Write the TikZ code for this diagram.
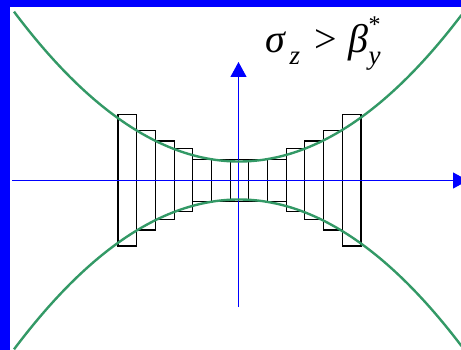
\documentclass[tikz,border=0pt]{standalone}
\usepackage{fontspec}
\newfontfamily\timesfont{Liberation Serif}
\usetikzlibrary{arrows.meta}
\definecolor{beamgreen}{RGB}{51,153,102}

\begin{document}
\begin{tikzpicture}[
  x=1pt, y=-1pt,
  axis/.style={blue, line width=1.1pt, -{Triangle[length=15pt,width=16pt]}},
  slice/.style={draw=black, line width=1.1pt},
  envelope/.style={beamgreen, line width=2.4pt},
  frame/.style={fill=blue},
  cond/.style={font=\timesfont\itshape\fontsize{40}{42}\selectfont, anchor=base west, inner sep=0pt}
]

% Canvas and blue frame
\useasboundingbox (0,0) rectangle (461,350);
\fill[white] (0,0) rectangle (461,350);
\fill[frame] (0,0) rectangle (461,7);
\fill[frame] (0,0) rectangle (10,350);

% Slices of the bunch
\draw[slice] (118,114.3) rectangle (136.7,246);
\draw[slice] (136.7,130.7) rectangle (155.4,230);
\draw[slice] (155.4,141) rectangle (174.1,219.3);
\draw[slice] (174.1,148.3) rectangle (192.8,211.7);
\draw[slice] (192.8,159.3) rectangle (211.5,201.3);
\draw[slice] (211.5,159.3) rectangle (230.1,201.3);
\draw[slice] (230.1,159.3) rectangle (248.8,201.3);
\draw[slice] (248.8,159.3) rectangle (267.5,201.3);
\draw[slice] (267.5,159.3) rectangle (286.2,201.3);
\draw[slice] (286.2,148.3) rectangle (304.9,211.7);
\draw[slice] (304.9,141) rectangle (323.6,219.3);
\draw[slice] (323.6,130.7) rectangle (342.3,230);
\draw[slice] (342.3,114.3) rectangle (361,246);

% Axes
\coordinate (hstart) at (12,180.5);
\coordinate (hend) at (468,180.5);
\coordinate (vstart) at (238.5,307);
\coordinate (vend) at (238.5,62);
\draw[axis] (hstart) -- (hend);
\draw[axis] (vstart) -- (vend);

% Beta envelope
\draw[envelope] plot[domain=-225:222.5, samples=90, smooth] ({239+\x}, {161.5-0.296*(\x/10)*(\x/10)});
\draw[envelope] plot[domain=-225:222.5, samples=90, smooth] ({239+\x}, {199.5+0.296*(\x/10)*(\x/10)});

% Condition label
\node[cond] (sigz) at (265,53) {σ\hspace{0.12em}\raisebox{-0.28em}{\fontsize{27}{27}\selectfont z}\hspace{0.35em}{\upshape >}\hspace{0.3em}β\rlap{\raisebox{0.5em}{\upshape\fontsize{24}{24}\selectfont *}}\raisebox{-0.28em}{\fontsize{27}{27}\selectfont y}};

\end{tikzpicture}
\end{document}
